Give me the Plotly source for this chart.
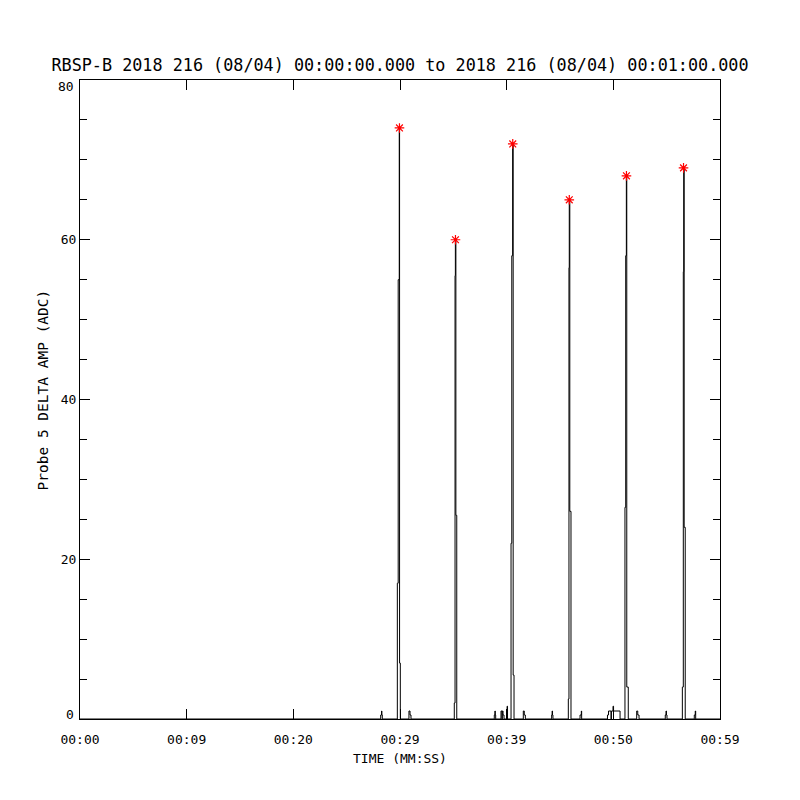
import plotly.graph_objects as go

# Time in seconds from 00:00:00, amplitude in ADC (step samples)
time_s = [0.0,
          28.19, 28.27, 28.30, 28.34,
          29.75, 29.83, 29.93, 29.96, 30.03,
          30.84, 30.94, 31.03,
          35.09, 35.16, 35.19, 35.24, 35.32,
          38.84, 38.90, 38.93, 38.97,
          39.47, 39.56, 39.59, 39.66, 39.75,
          40.04, 40.08,
          40.41, 40.48, 40.56, 40.61, 40.69,
          41.56, 41.65, 41.75,
          44.22, 44.26, 44.30, 44.34,
          45.78, 45.84, 45.87, 45.92, 46.03,
          46.88, 47.00, 47.03,
          49.45, 49.55, 49.78, 49.82, 49.97, 50.02, 50.63,
          51.09, 51.16, 51.22, 51.26, 51.40,
          52.19, 52.29, 52.41,
          54.87, 54.94, 54.98, 55.03,
          56.47, 56.56, 56.60, 56.64, 56.74,
          57.59, 57.68, 57.72,
          60.0]
amp_adc = [0,
           0.5, 1.0, 0.5, 0,
           17, 55, 74, 7, 0,
           1.0, 0.5, 0,
           2, 55.5, 60, 25.5, 0,
           0.5, 1.0, 0.5, 0,
           1.0, 0, 1.0, 0.5, 0,
           1.6, 0,
           22, 58, 72, 5.5, 0,
           1.0, 0.5, 0,
           0.5, 1.0, 0.5, 0,
           2.5, 56.5, 65, 26, 0,
           0.5, 1.0, 0,
           0.5, 1.0, 0, 1.0, 1.6, 1.0, 0,
           26.5, 58, 68, 4, 0,
           1.0, 0.5, 0,
           0.5, 1.0, 0.5, 0,
           4, 56, 69, 24, 0,
           0.5, 1.0, 0,
           0]

# Peak markers
peak_time_s = [29.95, 35.20, 40.57, 45.87, 51.23, 56.58]
peak_amp = [74, 60, 72, 65, 68, 69]

x_tickvals = [0, 10, 20, 30, 40, 50, 60]
x_ticktext = ["00:00", "00:09", "00:20", "00:29", "00:39", "00:50", "00:59"]
y_tickvals = [0, 20, 40, 60, 80]
y_ticktext = ["", "20", "40", "60", ""]   # end labels are drawn inside the range, as in the original
y_end_vals = [0, 80]
y_end_shift = [5, -6]

title_text = "RBSP-B 2018 216 (08/04) 00:00:00.000 to 2018 216 (08/04) 00:01:00.000"
FONT = "DejaVu Sans Mono"

W = H = 792  # page body has an 8px margin

fig = go.Figure()
fig.add_trace(go.Scatter(x=time_s, y=amp_adc, mode="lines", line_shape="hv",
                         line=dict(color="black", width=1), hoverinfo="skip"))
fig.add_trace(go.Scatter(x=peak_time_s, y=peak_amp, mode="markers",
                         marker=dict(symbol="asterisk-open", size=8, color="red",
                                     line=dict(color="red", width=1.2))))

for v, s in zip(y_end_vals, y_end_shift):
    fig.add_annotation(x=0, xref="paper", y=v, yref="y", text=str(v), showarrow=False,
                       xanchor="right", yanchor="middle", xshift=-4, yshift=s,
                       font=dict(family=FONT, size=13, color="black"))

fig.add_annotation(x=0, xref="paper", y=0.5, yref="paper", text="Probe 5 DELTA AMP (ADC)",
                   showarrow=False, textangle=-90, xanchor="center", yanchor="middle",
                   xshift=-38, yshift=9, font=dict(family=FONT, size=14.5, color="black"))

fig.update_layout(
    width=W, height=H,
    margin=dict(l=72, r=80, t=72, b=81),
    paper_bgcolor="white", plot_bgcolor="white",
    showlegend=False,
    title=dict(text=title_text, x=(400 - 8) / W, xanchor="center",
               y=1 - 57 / H, yanchor="middle",
               font=dict(family=FONT, size=16.8, color="black")),
    font=dict(family=FONT, size=13, color="black"),
)
fig.update_xaxes(range=[0, 60], tickvals=x_tickvals, ticktext=x_ticktext,
                 ticks="inside", ticklen=10, tickcolor="black", tickwidth=1,
                 ticklabelstandoff=8,
                 showline=True, linecolor="black", linewidth=1, mirror="ticks",
                 showgrid=False, zeroline=False,
                 title=dict(text="TIME (MM:SS)", standoff=8, font=dict(family=FONT, size=13)),
                 tickfont=dict(family=FONT, size=13))
fig.update_yaxes(range=[0, 80], tickvals=y_tickvals, ticktext=y_ticktext,
                 ticks="inside", ticklen=10, tickcolor="black", tickwidth=1,
                 minor=dict(dtick=5, ticks="inside", ticklen=7, tickcolor="black", tickwidth=1),
                 showline=True, linecolor="black", linewidth=1, mirror="ticks",
                 showgrid=False, zeroline=False,
                 tickfont=dict(family=FONT, size=13))

fig.write_html("out.html")
